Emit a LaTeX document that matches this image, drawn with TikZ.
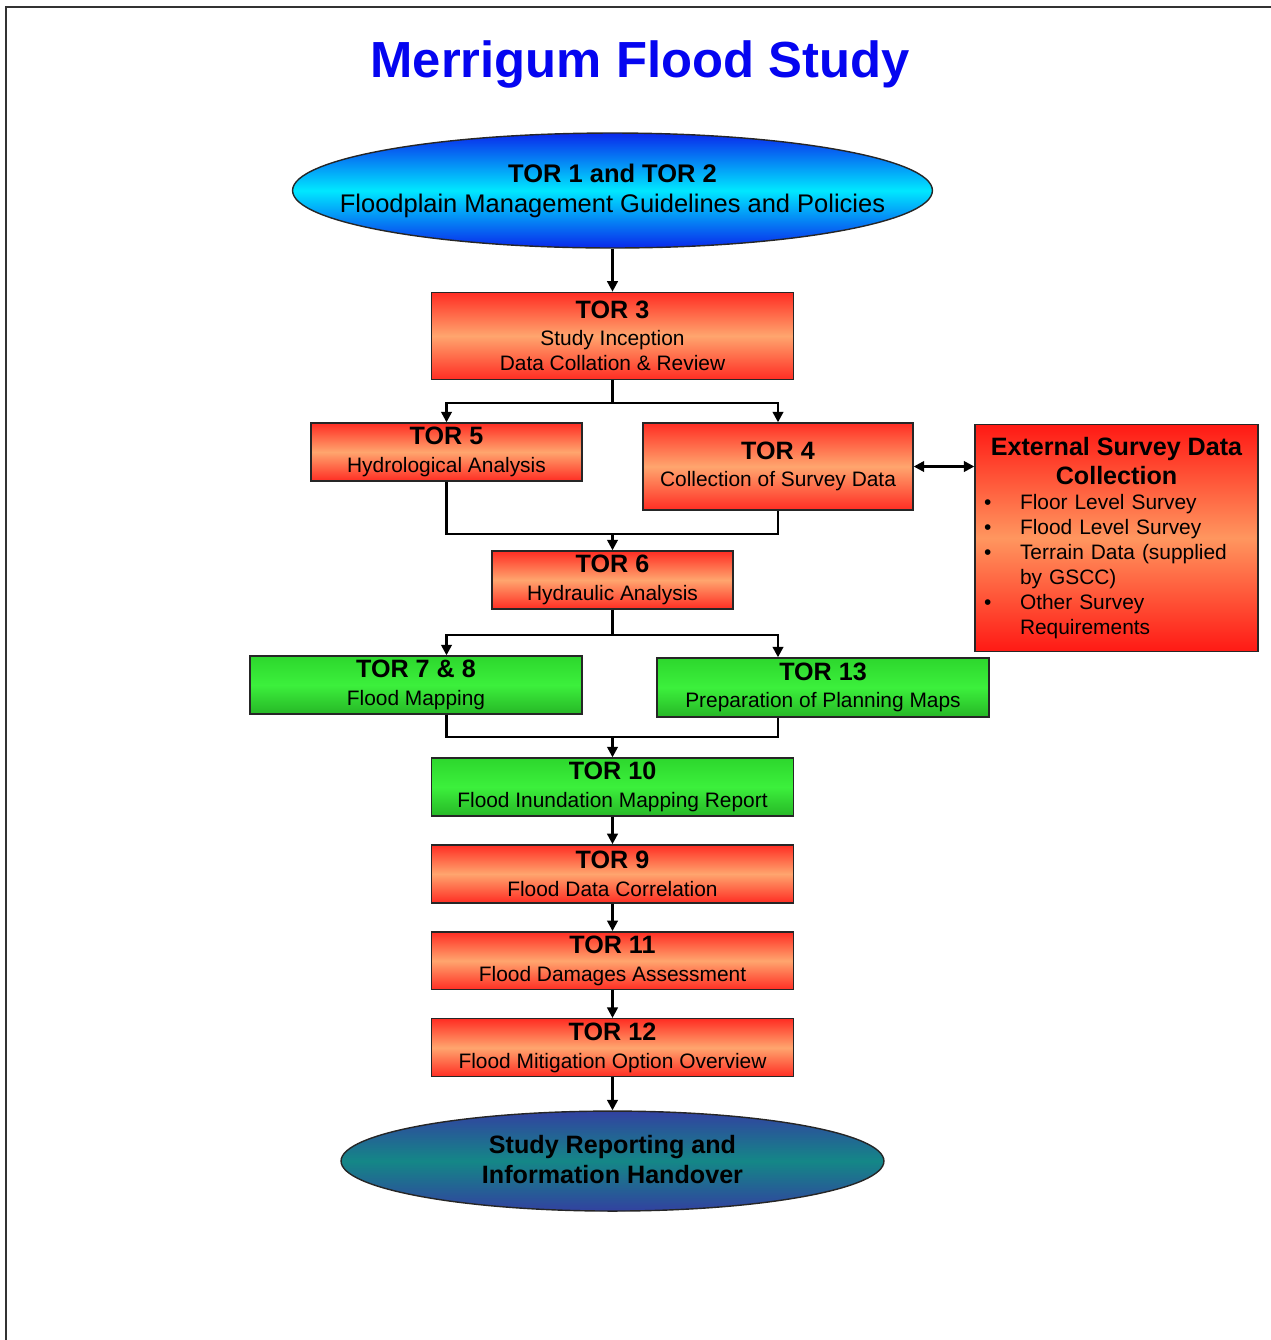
\documentclass[tikz,border=0pt]{standalone}
\usepackage{fontspec}
\setmainfont{Liberation Sans}
\usetikzlibrary{positioning,shapes.geometric,arrows.meta}
\definecolor{torred}{RGB}{255,45,35}
\definecolor{torsalmon}{RGB}{255,165,110}
\definecolor{extred}{RGB}{255,25,20}
\definecolor{extsalmon}{RGB}{255,150,95}
\definecolor{torgreen}{RGB}{45,215,45}
\definecolor{torlime}{RGB}{60,240,60}
\definecolor{ovalblue}{RGB}{10,40,235}
\definecolor{ovalcyan}{RGB}{0,232,255}
\definecolor{endblue}{RGB}{50,65,160}
\definecolor{endteal}{RGB}{20,135,135}
\definecolor{titleblue}{RGB}{5,5,240}
\newcommand\torhead[1]{{\fontsize{14.3}{14.2}\selectfont\bfseries #1}\\[1.6pt]}
\newcommand\svitem[1]{\par\noindent\hangindent=0.72cm\hangafter=1\makebox[0.72cm][l]{\textbullet}#1}
\begin{document}
\begin{tikzpicture}[x=0.02cm,y=-0.02cm,
  box/.style={draw=black!85,line width=0.8pt,inner sep=0pt,align=center,
    font=\fontsize{11.9}{14.2}\selectfont},
  redbox/.style={box,top color=torred,bottom color=torred,middle color=torsalmon},
  extbox/.style={box,top color=extred,bottom color=extred,middle color=extsalmon},
  greenbox/.style={box,top color=torgreen,bottom color=torgreen!85!black,middle color=torlime},
  oval/.style={ellipse,draw=black!85,line width=0.8pt,inner sep=0pt},
  ovaltext/.style={align=center,font=\fontsize{14.5}{17}\selectfont},
  wire/.style={line width=1.4pt},
  flow/.style={wire,-{Triangle[length=6pt,width=6pt]}},
  flows/.style={wire,{Triangle[length=6pt,width=6pt]}-{Triangle[length=6pt,width=6pt]}}]
  \useasboundingbox (0,0) rectangle (1271,1340);
  \draw[line width=1.3pt,black!80] (1271,7) -- (6,7) -- (6,1340);

  \node[font=\fontsize{28.9}{30}\selectfont\bfseries,text=titleblue] (title) at (640,64) {Merrigum Flood Study};

  \node[oval,top color=ovalblue,bottom color=ovalblue,middle color=ovalcyan,
    minimum width=12.8cm,minimum height=2.3cm,
    label={[ovaltext]center:{{\bfseries TOR 1 and TOR 2}\\Floodplain Management Guidelines and Policies}}]
    (top) at (612.5,190.5) {};
  \node[redbox,minimum width=7.24cm,minimum height=1.74cm,below=0.86cm of top] (tor3)
    {\torhead{TOR 3}Study Inception\\Data Collation \& Review};
  \node[redbox,minimum width=5.42cm,minimum height=1.16cm] (tor5) at (446.5,452)
    {\torhead{TOR 5}Hydrological Analysis};
  \node[redbox,minimum width=5.40cm,minimum height=1.74cm] (tor4) at (778,466.5)
    {\torhead{TOR 4}Collection of Survey Data};
  \node[extbox,text width=5.3cm,inner xsep=0.18cm,minimum height=4.54cm,align=left] (ext) at (1116.5,538)
    {{\centering\fontsize{14.3}{16.4}\selectfont\bfseries External Survey Data\\Collection\par}
     \svitem{Floor Level Survey}
     \svitem{Flood Level Survey}
     \svitem{Terrain Data (supplied\newline by GSCC)}
     \svitem{Other Survey\newline Requirements}\par};
  \node[redbox,minimum width=4.82cm,minimum height=1.16cm] (tor6) at (612.5,580)
    {\torhead{TOR 6}Hydraulic Analysis};
  \node[greenbox,minimum width=6.64cm,minimum height=1.16cm] (tor78) at (416,685)
    {\torhead{TOR 7 \& 8}Flood Mapping};
  \node[greenbox,minimum width=6.64cm,minimum height=1.18cm] (tor13) at (823,687.5)
    {\torhead{TOR 13}Preparation of Planning Maps};
  \node[greenbox,minimum width=7.24cm,minimum height=1.16cm] (tor10) at (612.5,787)
    {\torhead{TOR 10}Flood Inundation Mapping Report};
  \node[redbox,minimum width=7.24cm,minimum height=1.16cm,below=0.55cm of tor10] (tor9)
    {\torhead{TOR 9}Flood Data Correlation};
  \node[redbox,minimum width=7.24cm,minimum height=1.16cm,below=0.55cm of tor9] (tor11)
    {\torhead{TOR 11}Flood Damages Assessment};
  \node[redbox,minimum width=7.24cm,minimum height=1.16cm,below=0.55cm of tor11] (tor12)
    {\torhead{TOR 12}Flood Mitigation Option Overview};
  \node[oval,top color=endblue,bottom color=endblue,middle color=endteal,
    minimum width=10.86cm,minimum height=2.0cm,below=0.66cm of tor12,
    label={[ovaltext,font=\fontsize{14.3}{17}\selectfont\bfseries,yshift=1pt]center:{Study Reporting and\\Information Handover}}]
    (final) {};

  \coordinate (split1) at (612.5,403);
  \coordinate (merge1) at (612.5,534);
  \coordinate (split2) at (612.5,635);
  \coordinate (merge2) at (612.5,737);

  \draw[flow] (top) -- (tor3);
  \draw[wire] (tor3) -- (split1);
  \draw[flow] (split1) -| (tor5);
  \draw[flow] (split1) -| (tor4);
  \draw[flows] (tor4.east) -- (tor4.east -| ext.west);
  \draw[wire] (tor5) |- (merge1) -| (tor4);
  \draw[flow] (merge1) -- (tor6);
  \draw[wire] (tor6) -- (split2);
  \draw[flow] (split2) -| (tor5 |- tor78.north);
  \draw[flow] (split2) -| (tor4 |- tor13.north);
  \draw[wire] (tor5 |- tor78.south) |- (merge2) -| (tor4 |- tor13.south);
  \draw[flow] (merge2) -- (tor10);
  \draw[flow] (tor10) -- (tor9);
  \draw[flow] (tor9) -- (tor11);
  \draw[flow] (tor11) -- (tor12);
  \draw[flow] (tor12) -- (final);
\end{tikzpicture}
\end{document}
